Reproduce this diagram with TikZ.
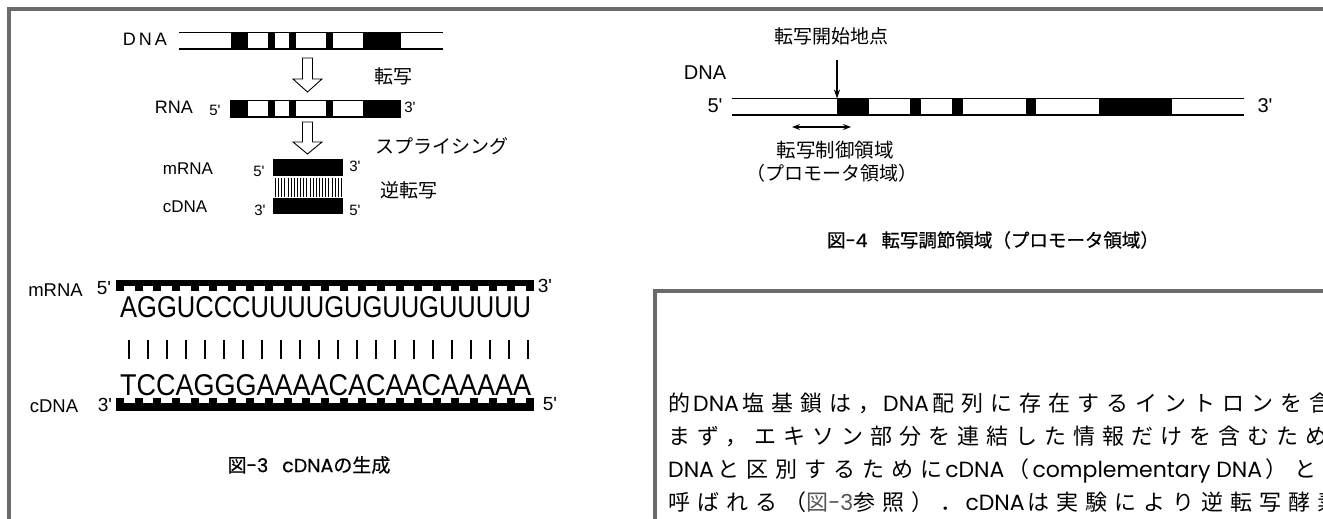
\documentclass[tikz,border=0pt]{standalone}
\usepackage{fontspec}
\setmainfont{Liberation Sans}
\newfontfamily\jp{Noto Sans CJK JP}
\newfontfamily\jpb[FakeBold=0.6]{Noto Sans CJK JP}
\newfontfamily\jpls[LetterSpace=32]{Noto Sans CJK JP}
\newfontfamily\pop{Poppins}
\newfontfamily\popb[FakeBold=0.6]{Poppins}
\usetikzlibrary{arrows.meta}
\newcommand\fsz[1]{\fontsize{#1}{#1}\selectfont}
\newcommand\pr{\textquotesingle}
\newcommand\lat[1]{{\kern3pt\pop #1\kern3pt}}
\definecolor{framegray}{HTML}{6B6B6B}
\definecolor{refgray}{HTML}{555555}
\tikzset{
  lbl/.style={inner sep=0pt, font=\fsz{18}},
  jlbl/.style={inner sep=0pt, font=\jp\fsz{19}},
  frameline/.style={draw=framegray, line width=4pt},
  strandline/.style={line width=1.2pt},
  hollowarrow/.style={draw=black, fill=white, line width=0.9pt, line join=miter},
  boxtext/.style={inner sep=0pt, anchor=base west, font=\jpls\fsz{22}},
  tiparrow/.style={line width=1.2pt, -{Stealth[length=9pt,width=6pt]}},
  dblarrow/.style={line width=1.2pt, {Stealth[length=8pt,width=6pt]}-{Stealth[length=8pt,width=6pt]}},
}
\begin{document}
\begin{tikzpicture}[x=1pt,y=-1pt]
\useasboundingbox (0,0) rectangle (1323,519);
\begin{scope}
\clip (0,0) rectangle (1323,519);
% ---------- frames ----------
\draw[frameline] (7,9.3) -- (1326,9.3);
\draw[frameline] (9.3,7.3) -- (9.3,522);
\draw[frameline] (653,291) -- (1326,291);
\draw[frameline] (655,289) -- (655,522);

% ---------- Fig 3 upper ----------
\node[lbl] (dnaA) at (145,39.5) {D\kern3pt N\kern3pt A};
\foreach \a/\b in {231/248,268/275,289/296,326/333,363/401}
  \fill (\a,32.5) rectangle (\b,49);
\draw[strandline] (179,32.5) -- (443,32.5) (179,49) -- (443,49);

\draw[hollowarrow] (302.5,58) -- (312.5,58) -- (312.5,79) -- (322,79) -- (307.5,92)
  -- (293,79) -- (302.5,79) -- cycle;
\node[jlbl] (tensha) at (393.5,76.5) {転写};

\node[lbl] (rnaA) at (174,107) {RNA};
\node[lbl,font=\fsz{15}] (r5) at (215,110) {5\pr};
\foreach \a/\b in {231/248,268/275,289/296,326/333,363/401}
  \fill (\a,100) rectangle (\b,117);
\draw[line width=1.6pt] (231,100.3) rectangle (400.5,116.7);
\node[lbl,font=\fsz{15}] (r3) at (410,107.5) {3\pr};

\draw[hollowarrow] (302.5,122) -- (312.5,122) -- (312.5,142) -- (322,142) -- (307.5,154)
  -- (293,142) -- (302.5,142) -- cycle;
\node[jlbl,anchor=west] (splice) at (375,146) {スプライシング};

\node[lbl,font=\fsz{17}] (mrnaA) at (188,169) {mRNA};
\node[lbl,font=\fsz{15}] (m5) at (259,171) {5\pr};
\fill (273.3,159.3) rectangle (342.7,176);
\node[lbl,font=\fsz{15}] (m3) at (355,166) {3\pr};
\foreach \i in {0,...,21}
  \draw[line width=0.8pt] ({275.3+\i*3.15},178) -- ++(0,18.5);
\fill (273.3,198.3) rectangle (342.7,214.3);
\node[lbl,font=\fsz{17}] (cdnaA) at (185,207) {cDNA};
\node[lbl,font=\fsz{15}] (c3) at (260,210) {3\pr};
\node[lbl,font=\fsz{15}] (c5) at (355,210) {5\pr};
\node[jlbl,anchor=west] (rt) at (380,190) {逆転写};

% ---------- Fig 3 lower ----------
\node[lbl,font=\fsz{18.5}] (mrnaB) at (55.5,290) {mRNA};
\node[lbl,font=\fsz{19}] (mb5) at (104,288) {5\pr};
\fill (116,280) rectangle (534,286);
\foreach \i in {0,...,22}
  \fill ({116+\i*18.636},286) rectangle ++(8,5);
\node[lbl,font=\fsz{19}] (mb3) at (545,286) {3\pr};
\node[inner sep=0pt, anchor=base west] (seqA) at (120,317)
  {\resizebox{411pt}{21pt}{\fsz{30}AGGUCCCUUUUGUGUUGUUUUU}};
\foreach \i in {0,...,21}
  \draw[line width=1.4pt] ({129+\i*19},340) -- ++(0,18.5);
\node[inner sep=0pt, anchor=base west] (seqB) at (120,395)
  {\resizebox{411pt}{21pt}{\fsz{30}TCCAGGGAAAACACAACAAAAA}};
\fill (116,403) rectangle (534,411);
\foreach \i in {0,...,22}
  \fill ({116+\i*18.636},398) rectangle ++(8,5);
\node[lbl,font=\fsz{18.5}] (cdnaB) at (54,406) {cDNA};
\node[lbl,font=\fsz{19}] (cb3) at (105,405) {3\pr};
\node[lbl,font=\fsz{19}] (cb5) at (550,404) {5\pr};
\node[inner sep=0pt, font=\fsz{19}] (cap3) at (309,465)
  {{\jpb 図}{\popb -3}\hspace{14pt}{\popb cDNA}{\jpb の生成}};

% ---------- Fig 4 ----------
\node[jlbl] (start) at (831,36) {転写開始地点};
\coordinate (tss) at (837,98.5);
\draw[tiparrow] ([yshift=-15pt]start.south -| tss) -- (tss);
\node[lbl,font=\fsz{20}] (dnaB) at (705,73) {DNA};
\node[lbl,font=\fsz{20}] (d5) at (715,106) {5\pr};
\foreach \a/\b in {837/869,910/921,952/963,1026/1036,1099/1172}
  \fill (\a,98.5) rectangle (\b,115);
\draw[strandline] (732,98.5) -- (1244,98.5) (732,115) -- (1244,115);
\node[lbl,font=\fsz{20}] (d3) at (1265,106) {3\pr};
\coordinate (pa) at (792,127);
\coordinate (pb) at (851,127);
\draw[dblarrow] (pa) -- (pb);
\node[jlbl,font=\jp\fsz{19.5}] (ctrl) at (835,150) {転写制御領域};
\node[jlbl,font=\jp\fsz{19}] (prom) at (832,173) {（プロモータ領域）};
\node[inner sep=0pt, font=\fsz{18.5}] (cap4) at (993,240)
  {{\jpb 図}{\popb -4}\hspace{14pt}{\jpb 転写調節領域（プロモータ領域）}};

% ---------- text box ----------
\node[boxtext] (t1) at (668,411.5) {的\lat{DNA}塩基鎖は，\lat{DNA}配列に存在するイントロンを含};
\node[boxtext] (t2) at (668,444.5) {まず，エキソン部分を連結した情報だけを含むため};
\node[boxtext] (t3) at (668,477.5) {{\pop DNA\kern3pt}と区別するために\lat{cDNA}（\lat{complementary DNA}）と};
\node[boxtext] (t4) at (668,510.5) {呼ばれる（{\color{refgray}図{\pop -3}}参照）．\lat{cDNA}は実験により逆転写酵素};
\end{scope}
\end{tikzpicture}
\end{document}
